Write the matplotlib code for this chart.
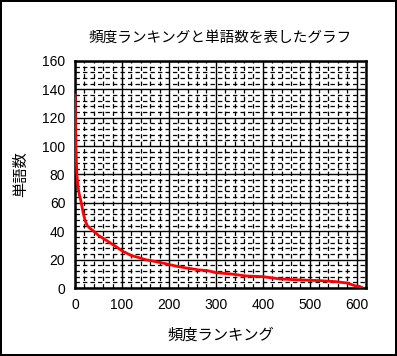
import matplotlib
matplotlib.use("Agg")
import matplotlib.pyplot as plt
from matplotlib.ticker import MultipleLocator

# Data (rank, word count)
ranks = [0, 1, 2, 3, 4, 6, 9, 12, 15, 18, 22, 26, 32, 40, 50, 60, 74, 88, 101,
         119, 135, 150, 172, 195, 214, 235, 256, 262, 283, 300, 332, 364, 400,
         436, 479, 521, 555, 580, 592, 599, 605, 610]
counts = [136, 115, 98, 88, 80, 72, 66, 62, 57, 52, 47, 44, 42, 40, 37, 35, 32,
          29, 26, 23, 21.5, 20, 18.6, 17, 15.5, 14.2, 13.2, 12.8, 12.2, 10.8,
          9.9, 8.5, 8, 6.4, 5.7, 5.2, 4.5, 3.5, 2.1, 1.4, 1.2, 0.6]

title = "頻度ランキングと単語数を表したグラフ"
xlabel = "頻度ランキング"
ylabel = "単語数"

plt.rcParams['font.family'] = ['Liberation Sans', 'Noto Sans CJK JP']

fig = plt.figure(figsize=(3.97, 3.56), dpi=100)
fig.patch.set_edgecolor("black")
fig.patch.set_linewidth(1.5)
ax = fig.add_axes([0.189, 0.191, 0.733, 0.638])

ax.plot(ranks, counts, color="red", linewidth=2, zorder=3)

ax.set_xlim(0, 620)
ax.set_ylim(0, 160)
ax.xaxis.set_major_locator(MultipleLocator(100))
ax.xaxis.set_minor_locator(MultipleLocator(20))
ax.yaxis.set_major_locator(MultipleLocator(20))
ax.yaxis.set_minor_locator(MultipleLocator(4))
ax.grid(which="major", color="black", linewidth=1, linestyle="-")
ax.grid(which="minor", color="black", linewidth=0.9, linestyle=(0, (3.5, 2.5)))
ax.tick_params(which="both", length=0, labelsize=10, pad=7)
for s in ax.spines.values():
    s.set_linewidth(1.8)

ax.set_title(title, fontsize=10.5, pad=14)
ax.set_xlabel(xlabel, fontsize=11, labelpad=12)
ax.set_ylabel(ylabel, fontsize=11, labelpad=10)

fig.savefig("out.png", dpi=100)
